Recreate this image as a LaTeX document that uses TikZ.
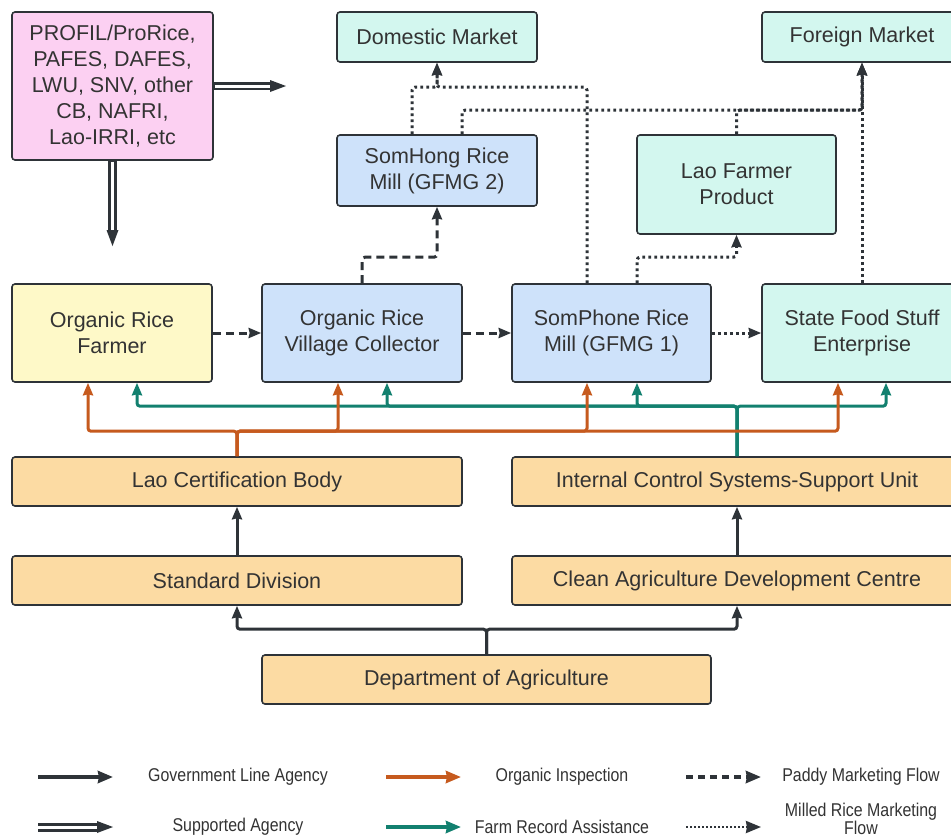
\documentclass[tikz,border=0pt]{standalone}
\usepackage{fontspec}
\setmainfont{Liberation Sans}
\newfontfamily\legfont[FakeStretch=0.86]{Liberation Sans}
\usetikzlibrary{arrows.meta,calc}
\definecolor{ink}{HTML}{2E3338}
\definecolor{txt}{HTML}{333333}
\definecolor{pinkf}{HTML}{FCD0F2}
\definecolor{yelf}{HTML}{FEF9C8}
\definecolor{bluef}{HTML}{CEE2FA}
\definecolor{mintf}{HTML}{D3F7EF}
\definecolor{orgf}{HTML}{FCDBA3}
\definecolor{orgl}{HTML}{C65A1E}
\definecolor{teall}{HTML}{12806F}
\begin{document}
\begin{tikzpicture}[x=1pt,y=-1pt,
 box/.style={draw=ink, line width=1.6pt, rounded corners=3pt, align=center,
   font=\fontsize{21.5}{26}\selectfont, text=txt, inner sep=0pt},
 tipend/.style={-{Stealth[length=12.5pt,width=10pt,inset=1pt]}},
 gov/.style={draw=ink, line width=3pt, tipend, rounded corners=3pt},
 insp/.style={draw=orgl, line width=3pt, tipend, rounded corners=3pt},
 farm/.style={draw=teall, line width=3pt, tipend, rounded corners=3pt},
 paddy/.style={draw=ink, line width=3pt, tipend, dash pattern=on 8pt off 5pt, rounded corners=3pt},
 milled/.style={draw=ink, line width=3pt, tipend, dash pattern=on 2.8pt off 3.2pt, rounded corners=3pt},
 legw/.style={line width=3.6pt, -{Stealth[length=15pt,width=12pt,inset=1pt]}},
 dblout/.style={draw=ink, line width=8.5pt},
 dblin/.style={draw=white, line width=3pt},
 legtext/.style={font=\legfont\fontsize{18.5}{19}\selectfont, text=txt, align=center, inner sep=0pt}
]
\useasboundingbox (0,0) rectangle (951,838);
\clip (0,0) rectangle (951,838);
\fill[white] (0,0) rectangle (951,838);

% nodes
\node[box, fill=pinkf, minimum width=201pt, minimum height=148pt] (pink) at (112.5,86)
  {PROFIL/ProRice,\\PAFES, DAFES,\\LWU, SNV, other\\CB, NAFRI,\\Lao-IRRI, etc};
\node[box, fill=mintf, minimum width=200pt, minimum height=50pt] (dom) at (437,37) {Domestic Market};
\node[box, fill=mintf, minimum width=200pt, minimum height=50pt] (for) at (862,37) {Foreign Market};
\node[box, fill=bluef, minimum width=200pt, minimum height=71pt] (somhong) at (437,170.5) {SomHong Rice\\Mill (GFMG 2)};
\node[box, fill=mintf, minimum width=199pt, minimum height=99pt] (laofp) at (736.5,184.5) {Lao Farmer\\Product};
\node[box, fill=yelf, minimum width=200pt, minimum height=98pt] (farmer) at (112,333) {Organic Rice\\Farmer};
\node[box, fill=bluef, minimum width=200pt, minimum height=98pt] (coll) at (362,333) {Organic Rice\\Village Collector};
\node[box, fill=bluef, minimum width=199pt, minimum height=98pt] (somphone) at (611.5,333) {SomPhone Rice\\Mill (GFMG 1)};
\node[box, fill=mintf, minimum width=200pt, minimum height=98pt] (state) at (862,333) {State Food Stuff\\Enterprise};
\node[box, fill=orgf, minimum width=450pt, minimum height=49pt] (lcb) at (237,481.5) {Lao Certification Body};
\node[box, fill=orgf, minimum width=450pt, minimum height=49pt] (ics) at (737,481.5) {Internal Control Systems-Support Unit};
\node[box, fill=orgf, minimum width=450pt, minimum height=49pt] (std) at (237,580.5) {Standard Division};
\node[box, fill=orgf, minimum width=450pt, minimum height=49pt] (cad) at (737,580.5) {Clean Agriculture Development Centre};
\node[box, fill=orgf, minimum width=449pt, minimum height=49pt] (doa) at (486.5,679.5) {Department of Agriculture};

% supported agency double arrows
\coordinate (pinkR) at (286,86);
\coordinate (pinkRb) at (273,86);
\coordinate (pinkD) at (112.5,246);
\coordinate (pinkDb) at (112.5,233);
\draw[dblout] (pink.east) -- (pinkRb);
\draw[dblin] ([xshift=1pt]pink.east) -- ([xshift=1pt]pinkRb);
\fill[ink] (pinkR) -- ++(-16,-6) -- ++(0,12) -- cycle;
\draw[dblout] (pink.south) -- (pinkDb);
\draw[dblin] ([yshift=-1pt]pink.south) -- ([yshift=-1pt]pinkDb);
\fill[ink] (pinkD) -- ++(-6,-16) -- ++(12,0) -- cycle;

% paddy marketing flow
\draw[paddy] (farmer.east) -- (coll.west);
\draw[paddy] (coll.east) -- (somphone.west);
\draw[paddy] (coll.north) -- ++(0,-26) -| (somhong.south);

% milled rice marketing flow
\draw[milled] (somphone.east) -- (state.west);
\draw[milled] ([xshift=25.5pt]somphone.north) -- ++(0,-26) -| (laofp.south);
\draw[milled] ([xshift=-24.5pt]somphone.north) -- ++(0,-196) -| (dom.south);
\draw[milled] ([xshift=-25pt]somhong.north) -- ++(0,-47) -| (dom.south);
\draw[milled] ([xshift=25pt]somhong.north) -- ++(0,-24) -| (for.south);
\draw[milled] (laofp.north) -- ++(0,-24) -| (for.south);
\draw[milled] (state.north) -- (for.south);

% farm record assistance
\draw[farm] (ics.north) -- ++(0,-50) -| ([xshift=25pt]farmer.south);
\draw[farm] (ics.north) -- ++(0,-50) -| ([xshift=25pt]coll.south);
\draw[farm] (ics.north) -- ++(0,-50) -| ([xshift=25.5pt]somphone.south);
\draw[farm] (ics.north) -- ++(0,-50) -| ([xshift=24pt]state.south);

% organic inspection
\draw[insp] (lcb.north) -- ++(0,-25) -| ([xshift=-24pt]farmer.south);
\draw[insp] (lcb.north) -- ++(0,-25) -| ([xshift=-24pt]coll.south);
\draw[insp] (lcb.north) -- ++(0,-25) -| ([xshift=-24.5pt]somphone.south);
\draw[insp] (lcb.north) -- ++(0,-25) -| ([xshift=-24pt]state.south);

% government line agency
\draw[gov] (std.north) -- (lcb.south);
\draw[gov] (cad.north) -- (ics.south);
\draw[gov] (doa.north) -- ++(0,-25) -| (std.south);
\draw[gov] (doa.north) -- ++(0,-25) -| (cad.south);

% legend
\coordinate (g1) at (38,777); \coordinate (g2) at (113,777);
\coordinate (o1) at (386,777); \coordinate (o2) at (461,777);
\coordinate (p1) at (686,777); \coordinate (p2) at (761,777);
\coordinate (s1) at (38,827); \coordinate (s2) at (99,827); \coordinate (s3) at (113,827);
\coordinate (f1) at (386,827); \coordinate (f2) at (461,827);
\coordinate (m1) at (686,827); \coordinate (m2) at (761,827);
\draw[gov, legw] (g1) -- (g2);
\draw[insp, legw] (o1) -- (o2);
\draw[paddy, legw, dash pattern=on 7pt off 5pt] (p1) -- (p2);
\draw[dblout, line width=9pt] (s1) -- (s2);
\draw[dblin] (s1) -- (s2);
\fill[ink] (s3) -- ++(-16,-6) -- ++(0,12) -- cycle;
\draw[farm, legw] (f1) -- (f2);
\draw[milled, legw, line width=2.6pt, dash pattern=on 1.8pt off 2.2pt] (m1) -- (m2);
\node[legtext] (lg1) at (238,777) {Government Line Agency};
\node[legtext] (lg2) at (562,777) {Organic Inspection};
\node[legtext] (lg3) at (861,777) {Paddy Marketing Flow};
\node[legtext] (lg4) at (238,827) {Supported Agency};
\node[legtext] (lg5) at (562,827) {Farm Record Assistance};
\node[legtext, font=\legfont\fontsize{18.5}{18}\selectfont] (lg6) at (861,819) {Milled Rice Marketing\\Flow};
\end{tikzpicture}
\end{document}
